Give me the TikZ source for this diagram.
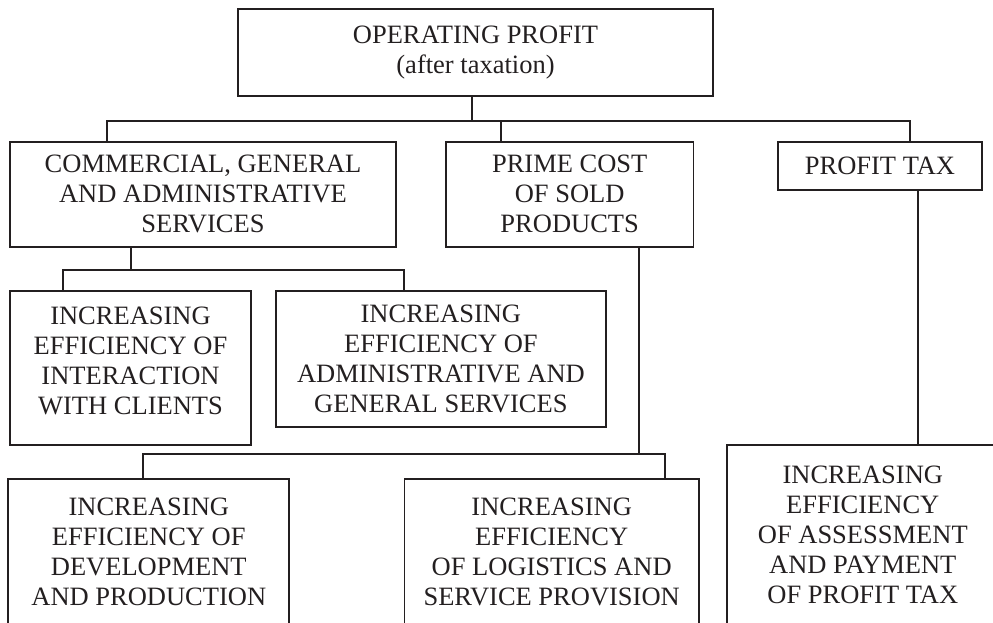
\documentclass[tikz,border=0pt]{standalone}
\usepackage{fontspec}
\setmainfont{Liberation Serif}
\definecolor{ink}{HTML}{231F20}
\begin{document}
\begin{tikzpicture}[x=1pt,y=-1pt,
  box/.style={draw=ink,line width=1.7pt,rectangle,inner sep=0pt,align=center,
    text=ink,font=\fontsize{26.5}{30}\selectfont},
  link/.style={draw=ink,line width=1.7pt}]
\useasboundingbox (0,0) rectangle (993,622);
\clip (0,0) rectangle (993,622);

% level 0
\node[box,minimum width=475pt,minimum height=87pt] (top) at (475.5,52.8)
  {OPERATING PROFIT\\(after taxation)};

% level 1
\node[box,minimum width=386pt,minimum height=105pt] (cga) at (203,194.2)
  {COMMERCIAL, GENERAL\\AND ADMINISTRATIVE\\SERVICES};
\node[box,minimum width=247.3pt,minimum height=105pt] (prime) at (569.7,194.2)
  {PRIME COST\\OF SOLD\\PRODUCTS};
\node[box,minimum width=203.4pt,minimum height=48.3pt] (tax) at (880,165.9)
  {PROFIT TAX};

% level 2 (the first box keeps its text a little above centre)
\node[box,minimum width=241pt,minimum height=153.7pt] (clients) at (130.5,367.9)
  {INCREASING\\EFFICIENCY OF\\INTERACTION\\WITH CLIENTS\\[-16pt]\mbox{}};
\node[box,minimum width=329.7pt,minimum height=135.7pt] (admin) at (440.9,358.9)
  {INCREASING\\EFFICIENCY OF\\ADMINISTRATIVE AND\\GENERAL SERVICES};
\node[box,minimum width=281pt,minimum height=146.3pt] (dev) at (148.8,551.9)
  {INCREASING\\EFFICIENCY OF\\DEVELOPMENT\\AND PRODUCTION};
\node[box,minimum width=294.7pt,minimum height=146.3pt] (logis) at (551.7,551.9)
  {INCREASING\\EFFICIENCY\\OF LOGISTICS AND\\SERVICE PROVISION};
\node[box,minimum width=272.3pt,minimum height=179pt] (assess) at (862.8,534.5)
  {INCREASING\\EFFICIENCY\\OF ASSESSMENT\\AND PAYMENT\\OF PROFIT TAX};

% bus points
\coordinate (t0) at (472.3,121);
\coordinate (tL) at (106.7,121);
\coordinate (tM) at (500.7,121);
\coordinate (tR) at (910,121);
\coordinate (c0) at (131,270);
\coordinate (cL) at (62.7,270);
\coordinate (cR) at (404.3,270);
\coordinate (p0) at (639,454.3);
\coordinate (pL) at (143.3,454.3);
\coordinate (pR) at (665,454.3);

% connectors
\draw[link] (t0 |- top.south) -- (t0);
\draw[link] (tL |- cga.north) -- (tL) -- (tR) -- (tR |- tax.north);
\draw[link] (tM) -- (tM |- prime.north);

\draw[link] (c0 |- cga.south) -- (c0);
\draw[link] (cL |- clients.north) -- (cL) -- (cR) -- (cR |- admin.north);

\draw[link] (p0 |- prime.south) -- (p0);
\draw[link] (pL |- dev.north) -- (pL) -- (pR) -- (pR |- logis.north);

\draw[link] (918.3,0 |- tax.south) -- (918.3,0 |- assess.north);
\end{tikzpicture}
\end{document}
